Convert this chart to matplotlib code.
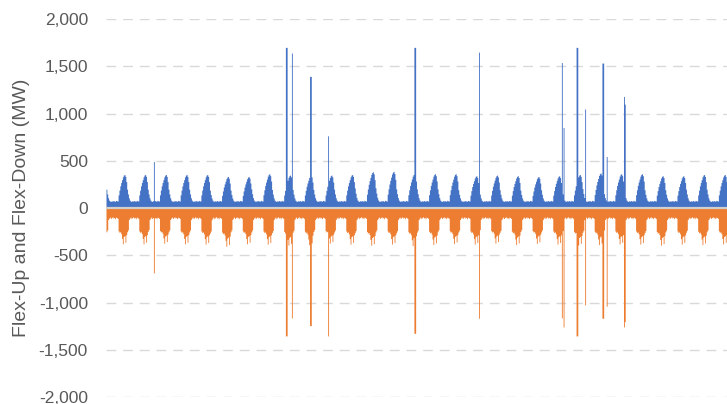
import numpy as np
import matplotlib
matplotlib.use('Agg')
from matplotlib import pyplot as plt

# hourly profile of one typical day (MW); peak is at hour 21
up_profile = [200, 150, 110, 85, 75, 72, 78, 74, 80, 76, 73, 82,
              78, 75, 140, 190, 235, 270, 300, 330, 348, 355, 335, 280]
down_profile = [-250, -230, -120, -105, -95, -110, -100, -92, -104, -98, -112, -96,
                -100, -108, -240, -255, -250, -270, -320, -377, -300, -290, -360, -280]

# daily peaks of flex-up and daily troughs of flex-down (30 days)
up_peaks = [356, 356, 356, 356, 356, 335, 335, 364, 350, 350,
            350, 356, 385, 389, 364, 364, 364, 343, 350, 343,
            335, 343, 356, 372, 364, 364, 343, 343, 356, 356]
down_troughs = [-377, -377, -370, -377, -380, -402, -377, -380, -390, -385,
                -370, -380, -392, -380, -395, -385, -375, -380, -370, -385,
                -372, -380, -390, -385, -378, -380, -392, -380, -385, -378]

# isolated spikes: hour, flex-up, flex-down
spike_hours = [55, 208, 209, 215, 236, 237, 257, 357, 358, 432, 528, 530,
               545, 546, 555, 575, 576, 580, 600, 601]
spike_up = [493, 1700, 1700, 1640, 1393, 1393, 765, 1700, 1700, 1650, 1540, 853,
            1700, 1700, 1048, 1534, 1534, 546, 1181, 1100]
spike_down = [-685, -1351, -1351, -1161, -1242, -1242, -1351, -1323, -1323, -1164, -1160, -1256,
              -1351, -1351, -1023, -1164, -1164, -1037, -1256, -1200]

n_days = len(up_peaks)
hours = np.arange(n_days * 24 + 1)

up = np.zeros(len(hours))
down = np.zeros(len(hours))
for d in range(n_days):
    su = (up_peaks[d] - 75) / (max(up_profile) - 75)
    sd = (down_troughs[d] + 100) / (min(down_profile) + 100)
    for h in range(24):
        up[d * 24 + h] = 75 + (up_profile[h] - 75) * su
        down[d * 24 + h] = -100 + (down_profile[h] + 100) * sd
up[-1] = up[-2]
down[-1] = down[-2]
for h, u, dn in zip(spike_hours, spike_up, spike_down):
    up[h] = u
    down[h] = dn

fig = plt.figure(figsize=(7.27, 4.04), dpi=100)
ax = fig.add_axes([0.1458, 0.0166, 0.8542, 0.9364])

ax.fill_between(hours, 0, up, step='post', color='#4472C4', lw=0, zorder=2)
ax.fill_between(hours, 0, down, step='post', color='#ED7D31', lw=0, zorder=2)
ax.axhline(0, color='#D0D0D0', lw=1.6, zorder=3)

ax.set_xlim(0, n_days * 24)
ax.set_ylim(-2000, 2000)
yt = np.arange(-2000, 2001, 500)
ax.set_yticks(yt)
ax.set_yticklabels([f'{v:,}' for v in yt])
ax.set_xticks([])
ax.grid(axis='y', color='#D9D9D9', lw=1, ls=(0, (7, 5)), zorder=0)
ax.tick_params(axis='y', length=0, pad=13, labelsize=12.5, labelcolor='#595959')
for s in ax.spines.values():
    s.set_visible(False)
for lab in ax.get_yticklabels():
    lab.set_family('Liberation Sans')

ax.set_ylabel('Flex-Up and Flex-Down (MW)', fontsize=14, color='#595959',
              family='Liberation Sans', labelpad=6)

fig.savefig('out.png', dpi=100)
